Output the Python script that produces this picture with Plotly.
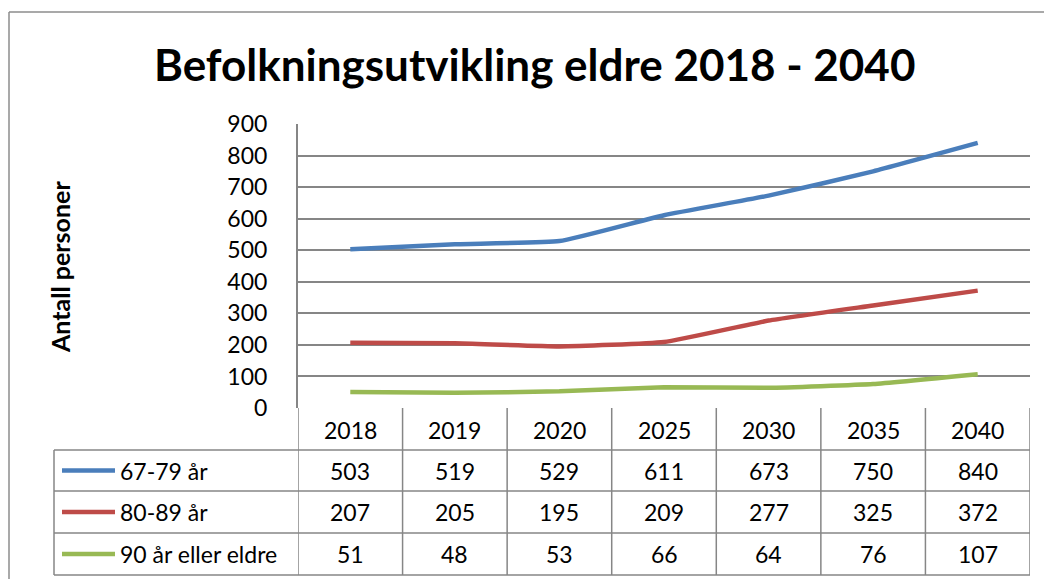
import plotly.graph_objects as go

years = ["2018", "2019", "2020", "2025", "2030", "2035", "2040"]
series_names = ["67-79 år", "80-89 år", "90 år eller eldre"]
s_67_79 = [503, 519, 529, 611, 673, 750, 840]
s_80_89 = [207, 205, 195, 209, 277, 325, 372]
s_90 = [51, 48, 53, 66, 64, 76, 107]
series_values = [s_67_79, s_80_89, s_90]
colors = ["#4A7EBB", "#BE4B48", "#98B954"]
y_ticks = [0, 100, 200, 300, 400, 500, 600, 700, 800, 900]

W, H = 1044, 579
FONT = "Lato"
GRID = "#868686"
TXT = 23


def px(x):
    return x / W


def py(y):
    return 1 - y / H


xs = list(range(len(years)))
fig = go.Figure()
for name, vals, col in zip(series_names, series_values, colors):
    fig.add_trace(go.Scatter(
        x=xs, y=vals, name=name, mode="lines",
        line=dict(color=col, width=4.5, shape="spline", smoothing=0.4),
        showlegend=False,
    ))

shapes = []
annotations = []

# outer chart border (top and left)
shapes.append(dict(type="line", xref="paper", yref="paper", x0=px(9), x1=1.01,
                   y0=py(12), y1=py(12), line=dict(color="#8C8C8C", width=1.5)))
shapes.append(dict(type="line", xref="paper", yref="paper", x0=px(9), x1=px(9),
                   y0=py(12), y1=-0.01, line=dict(color="#8C8C8C", width=1.5)))

# data table grid
row_y = [408, 450, 491, 533, 575]
n = len(years)
for i, yy in enumerate(row_y):
    if i == 0:
        continue
    shapes.append(dict(type="line", xref="paper", yref="paper", x0=px(54), x1=px(1030),
                       y0=py(yy), y1=py(yy), line=dict(color=GRID, width=1.5)))
for k in range(n + 1):
    shapes.append(dict(type="line", xref="x", yref="paper", x0=k - 0.5, x1=k - 0.5,
                       y0=py(408), y1=py(575), line=dict(color=GRID, width=1.5)))
shapes.append(dict(type="line", xref="paper", yref="paper", x0=px(54), x1=px(54),
                   y0=py(450), y1=py(575), line=dict(color=GRID, width=1.5)))

# header years
for k, yr in enumerate(years):
    annotations.append(dict(x=k, y=py(430), xref="x", yref="paper", text=yr,
                            showarrow=False, font=dict(family=FONT, size=TXT, color="#000"),
                            xanchor="center", yanchor="middle"))

# series rows
for r, (name, vals, col) in enumerate(zip(series_names, series_values, colors)):
    cy = (row_y[r + 1] + row_y[r + 2]) / 2
    shapes.append(dict(type="line", xref="paper", yref="paper", x0=px(62), x1=px(115),
                       y0=py(cy), y1=py(cy), line=dict(color=col, width=4.5)))
    annotations.append(dict(x=px(118), y=py(cy), xref="paper", yref="paper", text=name,
                            showarrow=False, font=dict(family=FONT, size=TXT, color="#000"),
                            xanchor="left", yanchor="middle"))
    for k, v in enumerate(vals):
        annotations.append(dict(x=k, y=py(cy), xref="x", yref="paper", text=str(v),
                                showarrow=False, font=dict(family=FONT, size=TXT, color="#000"),
                                xanchor="center", yanchor="middle"))

# title
annotations.append(dict(x=px(534), y=py(64), xref="paper", yref="paper",
                        text="<b>Befolkningsutvikling eldre 2018 - 2040</b>",
                        showarrow=False, font=dict(family=FONT, size=44, color="#000"),
                        xanchor="center", yanchor="middle"))
# y-axis title
annotations.append(dict(x=px(60), y=py(267), xref="paper", yref="paper",
                        text="<b>Antall personer</b>", textangle=-90,
                        showarrow=False, font=dict(family=FONT, size=25, color="#000"),
                        xanchor="center", yanchor="middle"))

fig.update_layout(
    width=W, height=H,
    margin=dict(l=0, r=0, t=0, b=0, autoexpand=False),
    paper_bgcolor="white", plot_bgcolor="white",
    xaxis=dict(domain=[px(298), px(1030)], range=[-0.5, n - 0.5],
               showticklabels=False, showgrid=False, zeroline=False,
               showline=False, fixedrange=True, automargin=False),
    yaxis=dict(domain=[py(408), py(124)], range=[0, 900], tickvals=y_ticks,
               showgrid=True, gridcolor=GRID, gridwidth=1.5, zeroline=False,
               showline=True, linecolor=GRID, linewidth=2,
               ticks="", ticklabelstandoff=24, automargin=False,
               tickfont=dict(family=FONT, size=TXT, color="#000"), fixedrange=True),
    shapes=shapes,
    annotations=annotations,
    font=dict(family=FONT),
)

fig.write_html("out.html", config={"displayModeBar": False},
               post_script="document.body.style.margin='0';")
